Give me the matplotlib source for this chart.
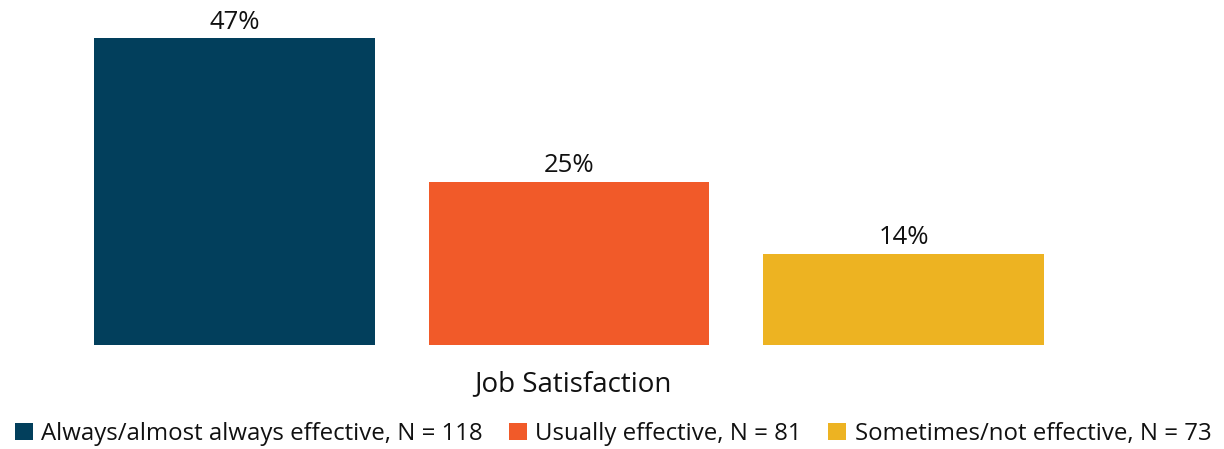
import matplotlib
matplotlib.use("Agg")
import matplotlib.pyplot as plt
from matplotlib.patches import Patch

# survey results
groups = ["Always/almost always effective, N = 118",
          "Usually effective, N = 81",
          "Sometimes/not effective, N = 73"]
values = [47, 25, 14]
colors = ["#023f5c", "#f15a29", "#edb322"]

plt.rcParams['font.family'] = ['Open Sans', 'DejaVu Sans']

fig = plt.figure(figsize=(12.24, 4.49), dpi=100)
ax = fig.add_axes([94/1224, 104/449, 950/1224, 326.5/449])

x = list(range(len(values)))
bars = ax.bar(x, values, width=0.839, color=colors)
for b, v in zip(bars, values):
    ax.text(b.get_x() + b.get_width()/2, v + 0.5, f"{v}%",
            ha='center', va='bottom', fontsize=18.5, color='#111111')

ax.set_xlim(-0.4195, 2.4195)
ax.set_ylim(0, 50)
ax.axis('off')

fig.text(573/1224, 1 - 384/449, "Job Satisfaction", ha='center', va='center',
         fontsize=20, color='#111111')

handles = [Patch(facecolor=c, edgecolor='none') for c in colors]
fig.legend(handles, groups, loc='center', bbox_to_anchor=(613/1224, 1 - 434/449),
           ncol=3, frameon=False, fontsize=17.3, handlelength=0.75, handleheight=0.75,
           handletextpad=0.35, columnspacing=1.1, borderpad=0,
           labelcolor='#111111')

fig.savefig("out.png", dpi=100)
